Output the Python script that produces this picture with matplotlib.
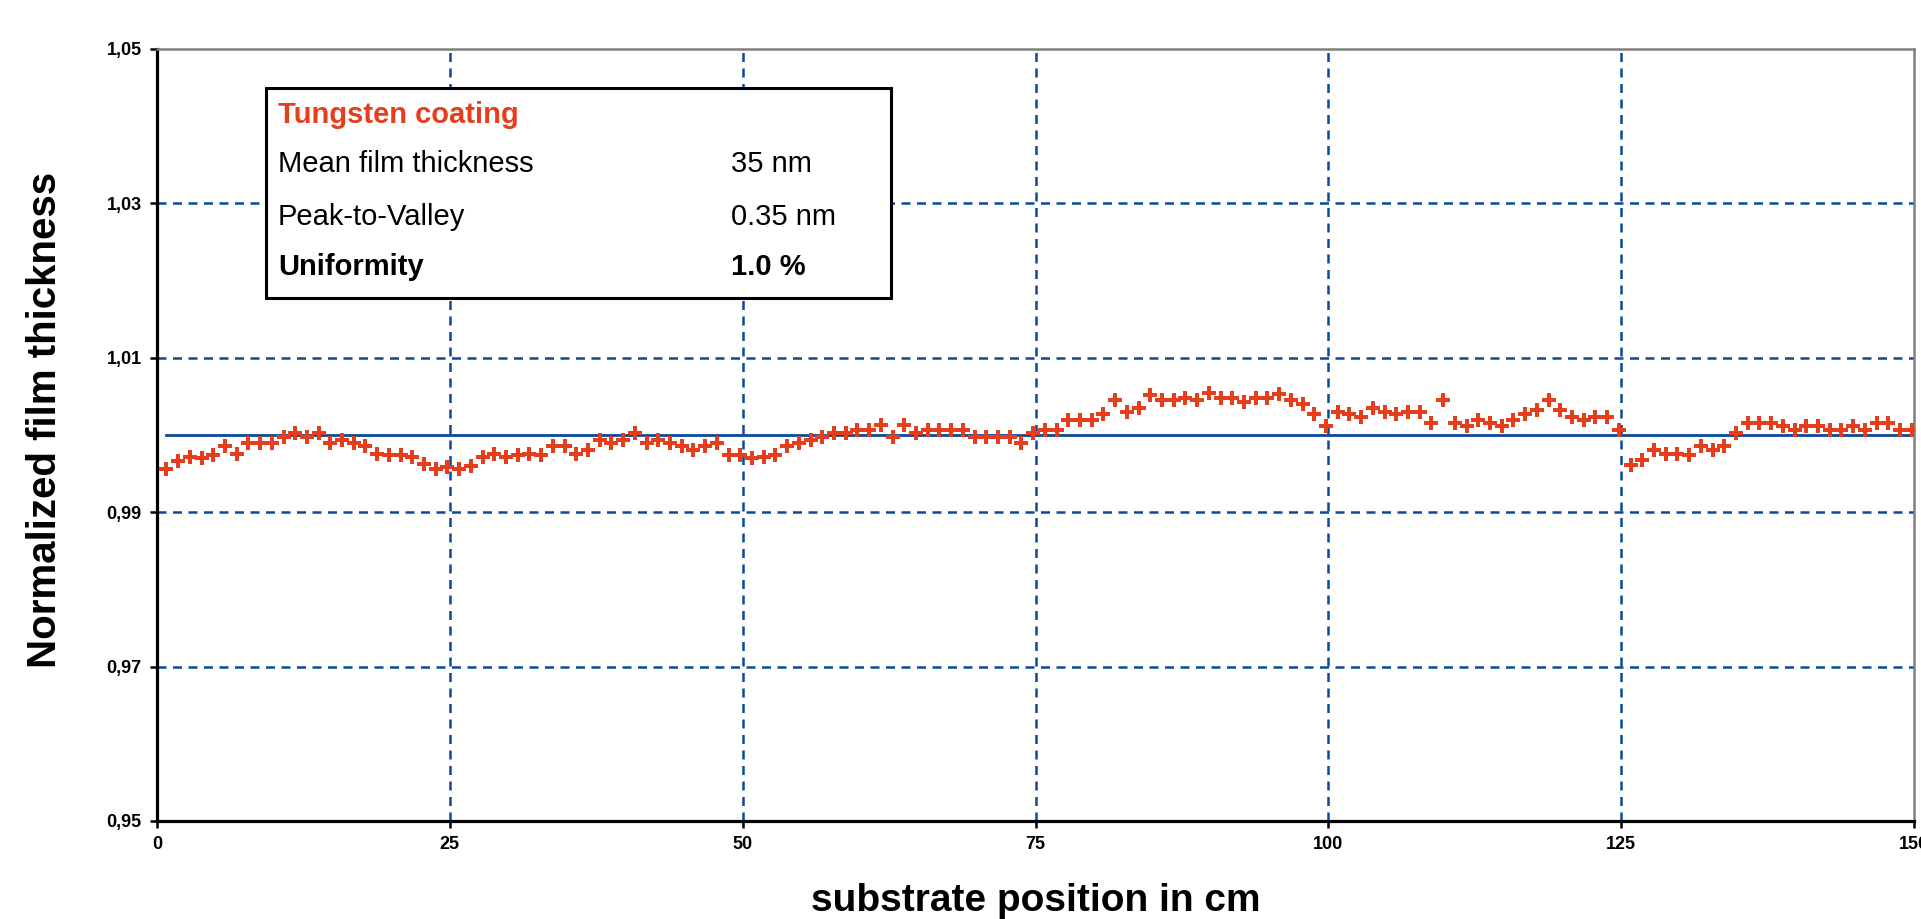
import numpy as np
import matplotlib
matplotlib.use('Agg')
import matplotlib.pyplot as plt
from matplotlib.patches import Rectangle

plt.rcParams['font.family'] = ['Liberation Sans', 'DejaVu Sans']

# measured film thickness, normalized, one point per cm
thickness = [
    0.9956, 0.9966, 0.9971, 0.9970, 0.9974, 0.9986, 0.9975, 0.9990, 0.9990, 0.9990,
    0.9998, 1.0003, 0.9997, 1.0002, 0.9990, 0.9994, 0.9990, 0.9986, 0.9976, 0.9974,
    0.9974, 0.9971, 0.9962, 0.9956, 0.9959, 0.9956, 0.9960, 0.9971, 0.9976, 0.9971,
    0.9974, 0.9976, 0.9974, 0.9986, 0.9986, 0.9976, 0.9981, 0.9994, 0.9990, 0.9994,
    1.0003, 0.9990, 0.9994, 0.9989, 0.9986, 0.9981, 0.9986, 0.9990, 0.9974, 0.9974,
    0.9970, 0.9971, 0.9974, 0.9986, 0.9990, 0.9994, 0.9998, 1.0002, 1.0003, 1.0007,
    1.0007, 1.0013, 0.9998, 1.0013, 1.0002, 1.0007, 1.0007, 1.0007, 1.0007, 0.9997,
    0.9997, 0.9997, 0.9997, 0.9989, 1.0002, 1.0007, 1.0007, 1.0020, 1.0020, 1.0020,
    1.0027, 1.0045, 1.0030, 1.0035, 1.0052, 1.0045, 1.0045, 1.0048, 1.0045, 1.0054,
    1.0048, 1.0048, 1.0043, 1.0048, 1.0048, 1.0053, 1.0045, 1.0040, 1.0027, 1.0012,
    1.0030, 1.0027, 1.0023, 1.0035, 1.0030, 1.0027, 1.0030, 1.0030, 1.0016, 1.0045,
    1.0016, 1.0012, 1.0020, 1.0016, 1.0012, 1.0020, 1.0027, 1.0032, 1.0045, 1.0032,
    1.0023, 1.0020, 1.0023, 1.0023, 1.0007, 0.9961, 0.9967, 0.9981, 0.9976, 0.9976,
    0.9974, 0.9986, 0.9981, 0.9986, 1.0002, 1.0016, 1.0016, 1.0016, 1.0012, 1.0007,
    1.0012, 1.0012, 1.0007, 1.0007, 1.0012, 1.0007, 1.0016, 1.0016, 1.0007, 1.0007,
]
positions = np.arange(0.8, 150.0, 1.0)
ref_level = 1.0

x_ticks = [0, 25, 50, 75, 100, 125, 150]
y_ticks = [0.95, 0.97, 0.99, 1.01, 1.03, 1.05]
y_ticklabels = ['0,95', '0,97', '0,99', '1,01', '1,03', '1,05']

box_rows = [('Mean film thickness', '35 nm', 'normal'),
            ('Peak-to-Valley', '0.35 nm', 'normal'),
            ('Uniformity', '1.0 %', 'bold')]

red = '#e63e1c'
blue = '#0b4a9b'

fig = plt.figure(figsize=(19.21, 9.19), dpi=100)
ax = fig.add_axes([157/1921, 1-821/919, (1914-157)/1921, (821-49)/919])

ax.set_xlim(0, 150)
ax.set_ylim(0.95, 1.05)

# dashed grid only inside the frame
for yv in y_ticks[1:-1]:
    ax.axhline(yv, color=blue, lw=1.8, ls=(0, (3.6, 2.6)), zorder=1)
for xv in x_ticks[1:-1]:
    ax.axvline(xv, color=blue, lw=1.8, ls=(0, (3.6, 2.6)), zorder=1)

# reference line at 1.0
ax.plot([positions[0], 150], [ref_level, ref_level], color=blue, lw=2.0, zorder=2)

ax.plot(positions, thickness, ls='none', marker='P', ms=9.5, mew=0, color=red, zorder=3)

ax.set_xticks(x_ticks)
ax.set_xticklabels([str(v) for v in x_ticks], fontsize=13, fontweight='bold')
ax.set_yticks(y_ticks)
ax.set_yticklabels(y_ticklabels, fontsize=13, fontweight='bold')
ax.tick_params(direction='out', length=5, width=1.8, pad=6)

for side in ['left', 'bottom']:
    ax.spines[side].set_color('black')
    ax.spines[side].set_linewidth(2.3)
for side in ['top', 'right']:
    ax.spines[side].set_color('#808080')
    ax.spines[side].set_linewidth(1.8)

ax.set_xlabel('substrate position in cm', fontsize=28, fontweight='bold', va='baseline')
ax.xaxis.set_label_coords(0.5, -0.116)
ax.set_ylabel('Normalized film thickness', fontsize=29, fontweight='bold', va='center')
ax.yaxis.set_label_coords(-0.064, 0.519)

# info box
ax.add_patch(Rectangle((0.062, 0.6775), 0.3558, 0.272, transform=ax.transAxes,
                       facecolor='white', edgecolor='black', lw=2.2, zorder=5))
fig.text(278/1921, 1-115/919, 'Tungsten coating', color=red, fontsize=21,
         fontweight='bold', va='center', zorder=6)
row_y = [164, 217, 267]
for (name, val, wt), yy in zip(box_rows, row_y):
    fig.text(278/1921, 1-yy/919, name, fontsize=21, fontweight=wt, va='center', zorder=6)
    fig.text(731/1921, 1-yy/919, val, fontsize=21, fontweight=wt, va='center', zorder=6)

fig.savefig('out.png', dpi=100)
